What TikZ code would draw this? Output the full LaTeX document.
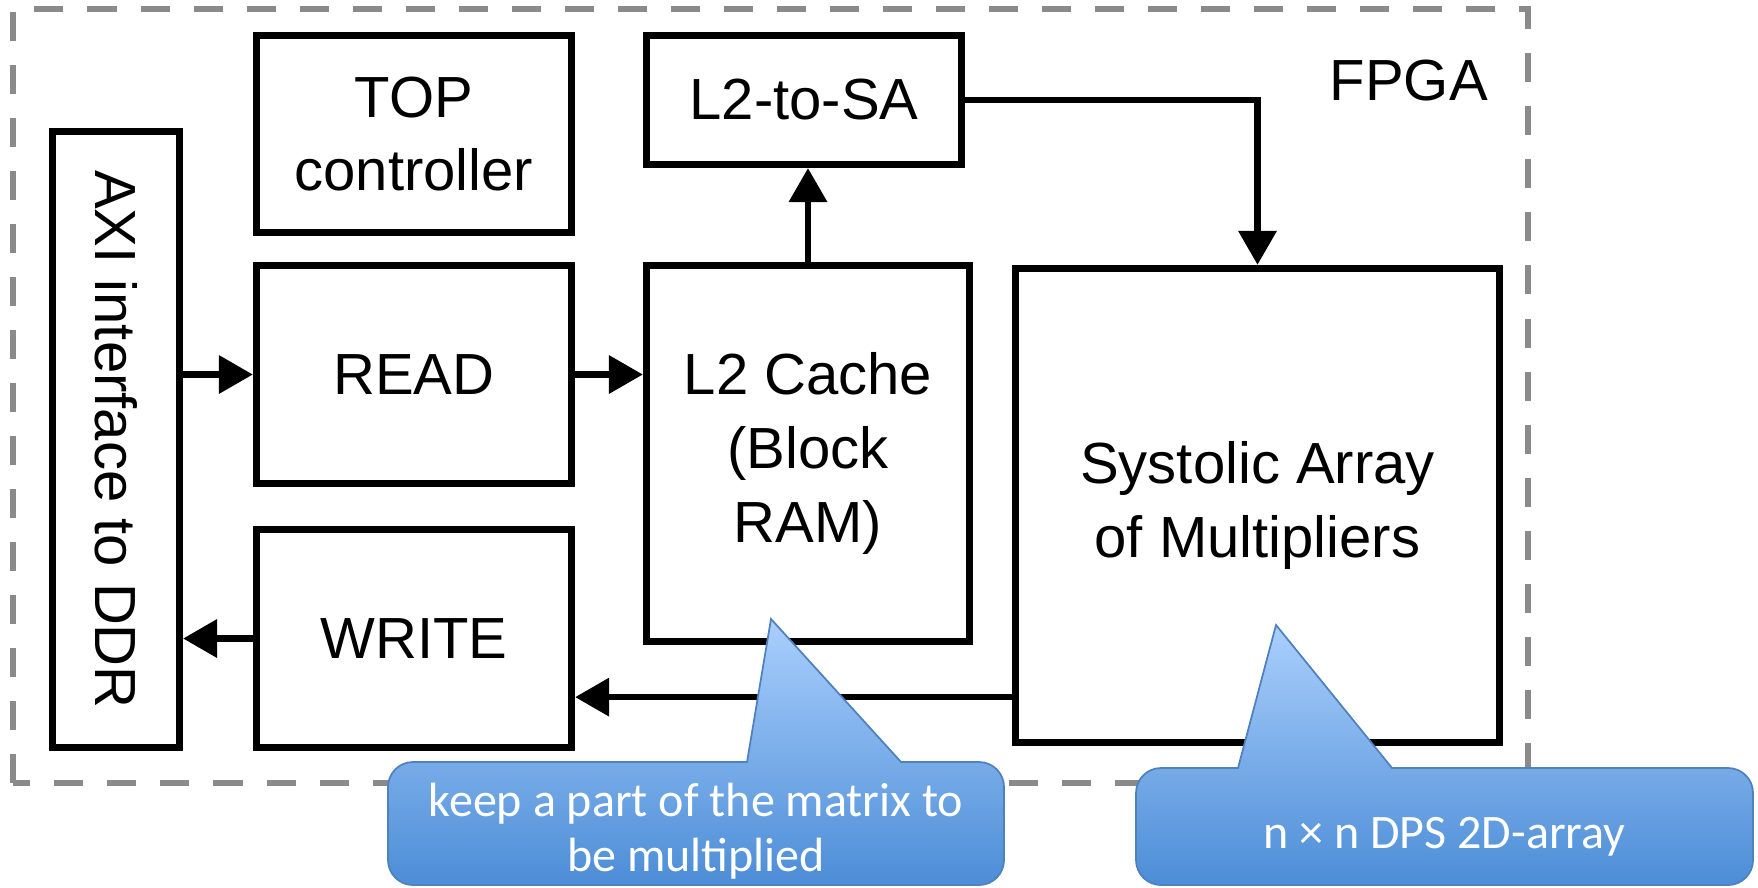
\documentclass[tikz,border=0pt]{standalone}
\usepackage{fontspec}
\usepackage{graphicx}
\setmainfont{Liberation Sans}
\newfontfamily\calfont{Carlito}
\usetikzlibrary{arrows.meta,calc}
\definecolor{dashgrey}{HTML}{8A8A8A}
\definecolor{calTop}{HTML}{AACFFD}
\definecolor{calBot}{HTML}{4C8DD6}
\definecolor{calEdge}{HTML}{4F81BD}
\begin{document}
\begin{tikzpicture}[x=0.01cm,y=0.01cm,
  blk/.style={draw, line width=0.067cm, inner sep=0pt, align=center,
    font=\fontsize{16.5}{21}\selectfont},
  arr/.style={line width=0.067cm, -{Triangle[length=0.34cm,width=0.37cm]}},
  callout/.style={draw=calEdge, line width=0.5pt, top color=calTop, bottom color=calBot},
  callouttext/.style={font=\calfont\fontsize{13.66}{15.65}\selectfont, text=white, align=center, inner sep=0pt}
]
\useasboundingbox (0,0) rectangle (1758,-887);
% FPGA boundary
\draw[dashgrey, line width=0.06cm, dash pattern=on 0.29cm off 0.24cm]
  (13,-783) -- (13,-9) -- (1528,-9) -- (1528,-783) -- cycle;

% blocks
\node[blk, minimum width=1.273cm, minimum height=6.163cm] (axi) at (116,-439.5)
  {\rotatebox{-90}{AXI interface to DDR}};
\node[blk, minimum width=3.153cm, minimum height=1.973cm] (top) at (414,-134) {TOP\\controller};
\node[blk, minimum width=3.153cm, minimum height=2.183cm] (read) at (414,-374.5) {READ};
\node[blk, minimum width=3.153cm, minimum height=2.183cm] (write) at (414,-638.5) {WRITE};
\node[blk, minimum width=3.153cm, minimum height=1.293cm] (l2sa) at (804,-100) {L2-to-SA};
\node[blk, minimum width=3.233cm, minimum height=3.763cm] (l2) at (808,-453.5) {L2 Cache\\(Block\\RAM)};
\node[blk, minimum width=4.843cm, minimum height=4.743cm] (sa) at (1257.5,-505.5) {Systolic Array\\of Multipliers};
\node[anchor=base west, inner sep=0pt, font=\fontsize{16.5}{21}\selectfont] (fpga) at (1329,-100) {FPGA};

% connectors
\draw[arr] (axi.east |- read.west) -- (read.west);
\draw[arr] (read.east) -- (read.east -| l2.west);
\draw[arr] (l2.north) -- (l2.north |- l2sa.south);
\draw[arr] (l2sa.east) -| (sa.north);
\path ([yshift=0.49cm]sa.south west) coordinate (s1);
\draw[arr] (s1) -- (s1 -| write.east);
\draw[arr] (write.west) -- (write.west -| axi.east);

% callouts
\path[callout] (747,-762) -- (771,-619) -- (901,-762) -- (979,-762)
  arc[start angle=90, end angle=0, radius=0.25cm] -- (1004,-860)
  arc[start angle=0, end angle=-90, radius=0.25cm] -- (413,-885)
  arc[start angle=270, end angle=180, radius=0.25cm] -- (388,-787)
  arc[start angle=180, end angle=90, radius=0.25cm] -- cycle;
\node[callouttext] (t1) at (696,-831) {keep a part of the matrix to\\be multiplied};

\path[callout] (1238,-768) -- (1276,-625) -- (1392,-768) -- (1728,-768)
  arc[start angle=90, end angle=0, radius=0.25cm] -- (1753,-860)
  arc[start angle=0, end angle=-90, radius=0.25cm] -- (1161,-885)
  arc[start angle=270, end angle=180, radius=0.25cm] -- (1136,-793)
  arc[start angle=180, end angle=90, radius=0.25cm] -- cycle;
\node[callouttext, anchor=base] (t2) at (1444.5,-848) {n × n DPS 2D-array};
\end{tikzpicture}
\end{document}
